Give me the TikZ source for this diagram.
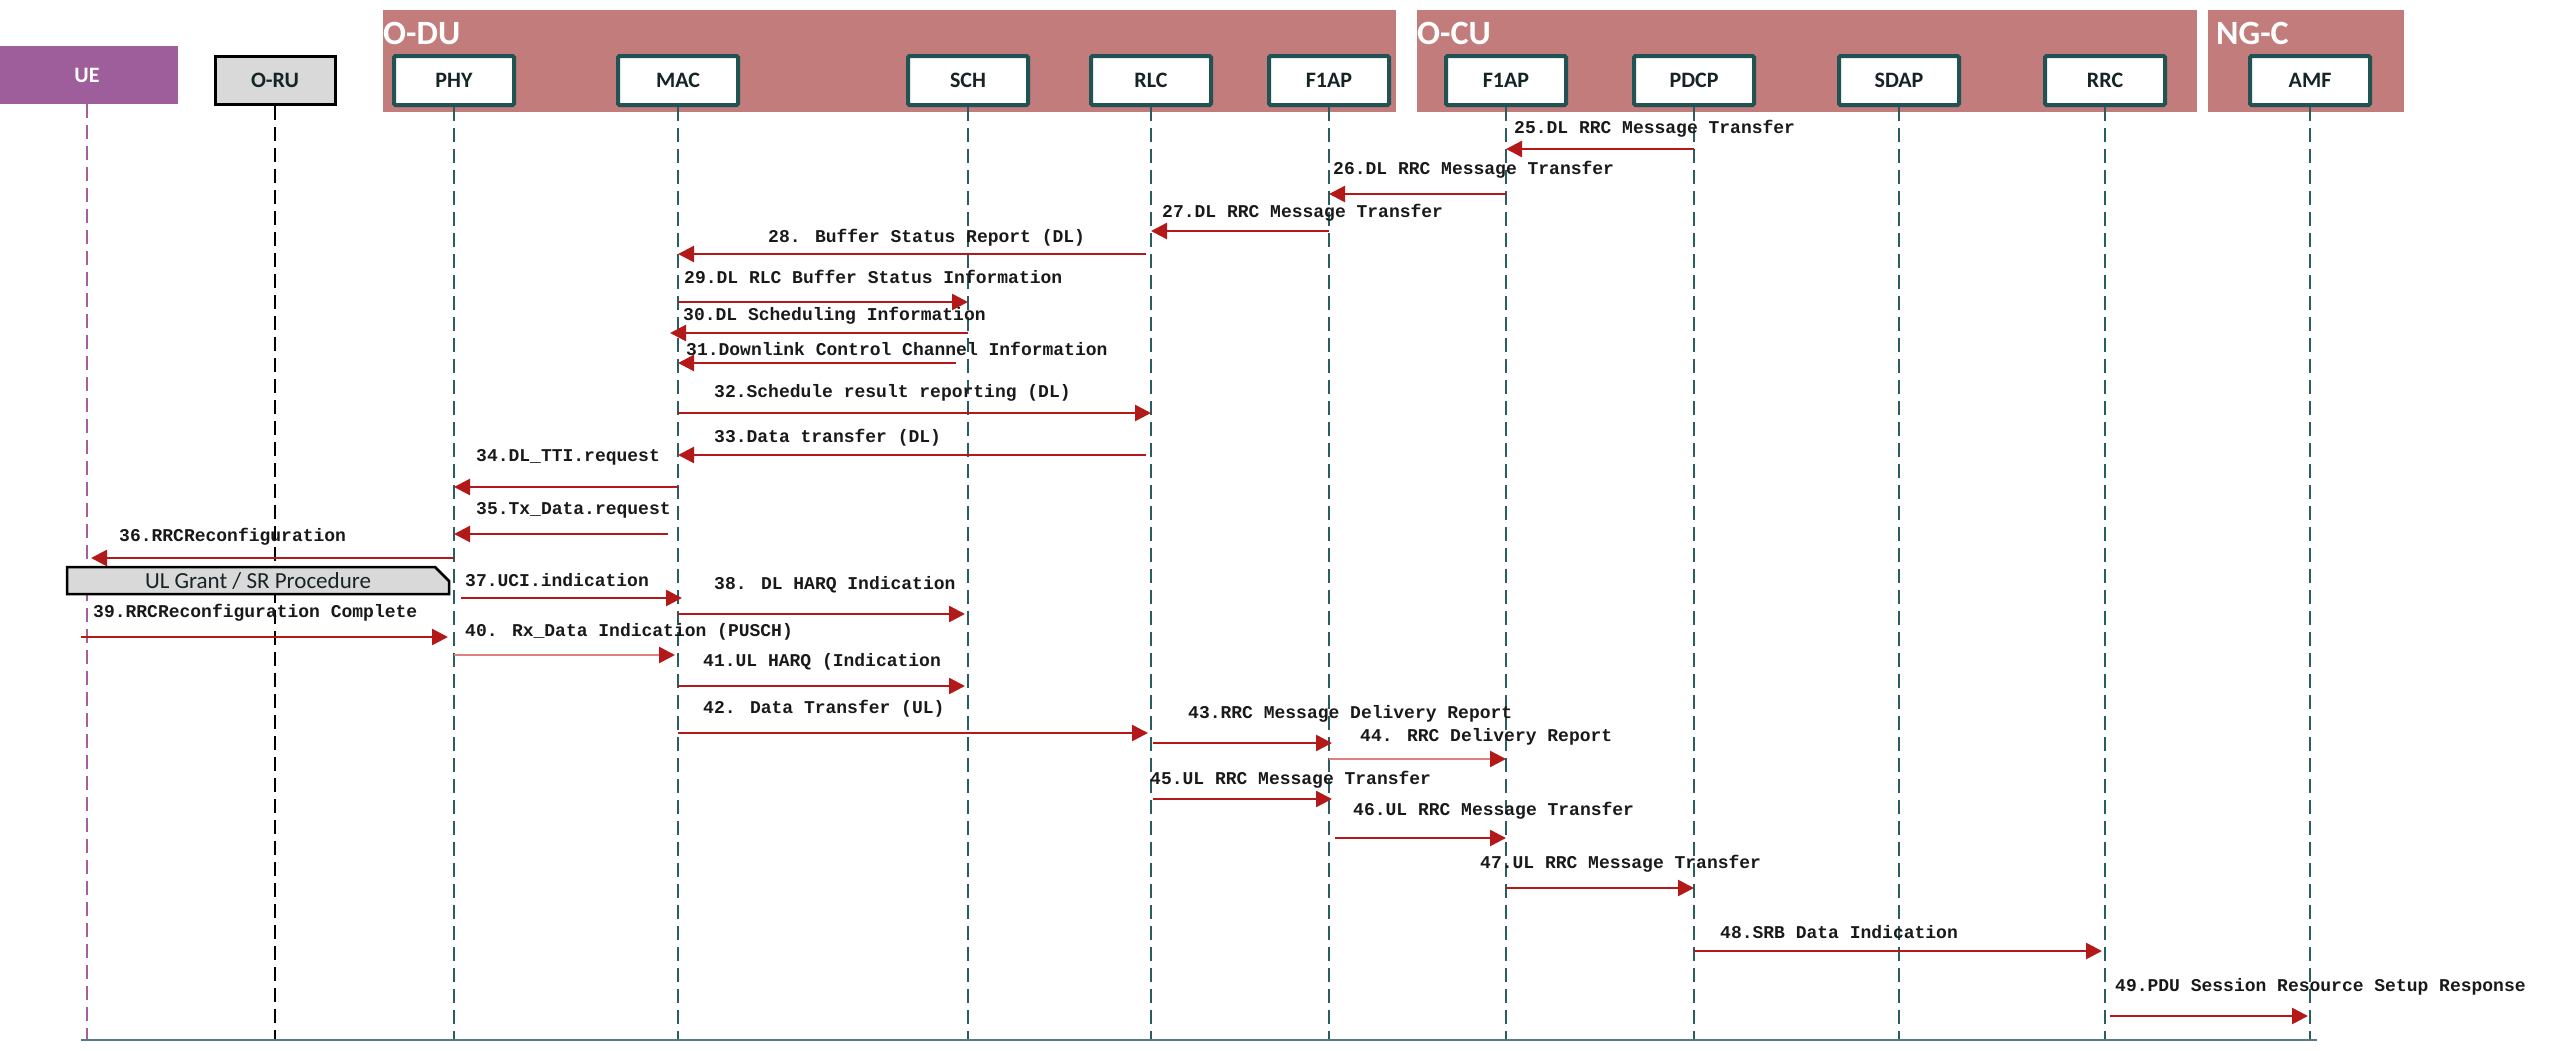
\documentclass[tikz,border=0pt]{standalone}
\usepackage{fontspec}
\setmainfont{Carlito}
\newfontfamily\msgfont{Liberation Mono}
\usetikzlibrary{arrows.meta}

\definecolor{regionfill}{RGB}{194,124,123}
\definecolor{boxline}{RGB}{33,82,84}
\definecolor{lifeteal}{RGB}{42,92,96}
\definecolor{uepurple}{RGB}{158,94,155}
\definecolor{uelife}{RGB}{165,95,160}
\definecolor{msgred}{RGB}{180,25,25}
\definecolor{msgpink}{RGB}{222,128,128}
\definecolor{footgray}{RGB}{84,124,128}
\definecolor{orugray}{RGB}{217,217,217}
\definecolor{headtext}{RGB}{22,36,38}

\tikzset{
  entity/.style={draw=boxline, line width=4pt, fill=white, minimum width=120pt,
    minimum height=49pt, inner sep=0pt, rounded corners=1.5pt,
    font=\fontsize{22}{24}\selectfont\bfseries, text=headtext},
  uebox/.style={fill=uepurple, minimum width=182pt, minimum height=58pt, inner sep=0pt,
    font=\fontsize{22}{24}\selectfont\bfseries, text=white},
  orubox/.style={draw=black, line width=3pt, fill=orugray, minimum width=120pt,
    minimum height=48pt, inner sep=0pt, font=\fontsize{22}{24}\selectfont\bfseries,
    text=headtext},
  regionlabel/.style={anchor=west, inner sep=0pt, text=white,
    font=\fontsize{34}{36}\selectfont\bfseries},
  lifeline/.style={draw=lifeteal, line width=2pt, dash pattern=on 14pt off 7pt},
  msg/.style={draw=msgred, line width=2.5pt,
    -{Triangle[length=16pt,width=16pt,color=msgred]}},
  msglight/.style={msg, draw=msgpink},
  msglabel/.style={anchor=base west, inner sep=0pt, text=black!90,
    font=\msgfont\bfseries\fontsize{18}{20}\selectfont},
  footline/.style={draw=footgray, line width=2.5pt},
}

\begin{document}
\begin{tikzpicture}[x=1pt,y=-1pt]
\useasboundingbox (0,0) rectangle (2565,1050);

% network function groups
\fill[regionfill] (383,10) rectangle (1396,112);
\fill[regionfill] (1417,10) rectangle (2197,112);
\fill[regionfill] (2208,10) rectangle (2404,112);
\node[regionlabel] (odu) at (383,33) {O-DU};
\node[regionlabel] (ocu) at (1417,33) {O-CU};
\node[regionlabel] (ngc) at (2216,33) {NG-C};

% participants
\node[uebox]  (ue)   at (87,75)     {UE};
\node[orubox] (oru)  at (275,80.5)  {O-RU};
\node[entity] (phy)  at (454,80.5)  {PHY};
\node[entity] (mac)  at (678,80.5)  {MAC};
\node[entity] (sch)  at (968,80.5)  {SCH};
\node[entity] (rlc)  at (1151,80.5) {RLC};
\node[entity] (duf1) at (1329,80.5) {F1AP};
\node[entity] (cuf1) at (1506,80.5) {F1AP};
\node[entity] (pdcp) at (1694,80.5) {PDCP};
\node[entity] (sdap) at (1899,80.5) {SDAP};
\node[entity] (rrc)  at (2105,80.5) {RRC};
\node[entity] (amf)  at (2310,80.5) {AMF};

% lifelines
\coordinate (bottom) at (0,1040);
\draw[lifeline, draw=uelife] (ue.south) -- (ue.south |- bottom);
\draw[lifeline, draw=black] (oru.south) -- (oru.south |- bottom);
\foreach \p in {phy,mac,sch,rlc,duf1,cuf1,pdcp,sdap,rrc,amf}
  \draw[lifeline] (\p.south) -- (\p.south |- bottom);

\coordinate (footL) at (81,1040);
\coordinate (footR) at (2317,1040);
\draw[footline] (footL) -- (footR);

% message rows
\coordinate (y25) at (0,149);
\coordinate (y26) at (0,194);
\coordinate (y27) at (0,231);
\coordinate (y28) at (0,254);
\coordinate (y29) at (0,302);
\coordinate (y30) at (0,333);
\coordinate (y31) at (0,363);
\coordinate (y32) at (0,413);
\coordinate (y33) at (0,455);
\coordinate (y34) at (0,487);
\coordinate (y35) at (0,534);
\coordinate (y36) at (0,558);
\coordinate (y37) at (0,598);
\coordinate (y38) at (0,614);
\coordinate (y39) at (0,637);
\coordinate (y40) at (0,655);
\coordinate (y41) at (0,686);
\coordinate (y42) at (0,733);
\coordinate (y43) at (0,743);
\coordinate (y44) at (0,759);
\coordinate (y45) at (0,799);
\coordinate (y46) at (0,838);
\coordinate (y47) at (0,888);
\coordinate (y48) at (0,951);
\coordinate (y49) at (0,1016);

% messages
\draw[msg] (pdcp |- y25) -- (cuf1 |- y25);
\draw[msg] (cuf1 |- y26) -- (duf1 |- y26);
\draw[msg] (duf1 |- y27) -- (rlc |- y27);
\draw[msg] ([xshift=-5pt]rlc |- y28) -- (mac |- y28);
\draw[msg] (mac |- y29) -- (sch |- y29);
\draw[msg] (sch |- y30) -- ([xshift=-8pt]mac |- y30);
\draw[msg] ([xshift=-12pt]sch |- y31) -- (mac |- y31);
\draw[msg] (mac |- y32) -- (rlc |- y32);
\draw[msg] ([xshift=-5pt]rlc |- y33) -- (mac |- y33);
\draw[msg] (mac |- y34) -- (phy |- y34);
\draw[msg] ([xshift=-10pt]mac |- y35) -- (phy |- y35);
\draw[msg] (phy |- y36) -- ([xshift=4pt]ue |- y36);
\draw[msg] ([xshift=7pt]phy |- y37) -- ([xshift=4pt]mac |- y37);
\draw[msg] (mac |- y38) -- ([xshift=-3pt]sch |- y38);
\draw[msg] ([xshift=-6pt]ue |- y39) -- ([xshift=-6pt]phy |- y39);
\draw[msglight] (phy |- y40) -- ([xshift=-3pt]mac |- y40);
\draw[msg] (mac |- y41) -- ([xshift=-3pt]sch |- y41);
\draw[msg] (mac |- y42) -- ([xshift=-3pt]rlc |- y42);
\draw[msg] ([xshift=2pt]rlc |- y43) -- ([xshift=3pt]duf1 |- y43);
\draw[msglight] (duf1 |- y44) -- (cuf1 |- y44);
\draw[msg] ([xshift=2pt]rlc |- y45) -- ([xshift=3pt]duf1 |- y45);
\draw[msg] ([xshift=6pt]duf1 |- y46) -- (cuf1 |- y46);
\draw[msg] (cuf1 |- y47) -- (pdcp |- y47);
\draw[msg] (pdcp |- y48) -- ([xshift=-3pt]rrc |- y48);
\draw[msg] ([xshift=5pt]rrc |- y49) -- ([xshift=-2pt]amf |- y49);

% message labels
\node[msglabel] (l25) at (1514,133) {25.DL RRC Message Transfer};
\node[msglabel] (l26) at (1333,174) {26.DL RRC Message Transfer};
\node[msglabel] (l27) at (1162,217) {27.DL RRC Message Transfer};
\node[msglabel] (l28) at (768,242)  {28. Buffer Status Report (DL)};
\node[msglabel] (l29) at (684,283)  {29.DL RLC Buffer Status Information};
\node[msglabel] (l30) at (683,320)  {30.DL Scheduling Information};
\node[msglabel] (l31) at (686,355)  {31.Downlink Control Channel Information};
\node[msglabel] (l32) at (714,397)  {32.Schedule result reporting (DL)};
\node[msglabel] (l33) at (714,442)  {33.Data transfer (DL)};
\node[msglabel] (l34) at (476,461)  {34.DL\_TTI.request};
\node[msglabel] (l35) at (476,514)  {35.Tx\_Data.request};
\node[msglabel] (l36) at (119,541)  {36.RRCReconfiguration};
\node[msglabel] (l37) at (465,586)  {37.UCI.indication};
\node[msglabel] (l38) at (714,589)  {38. DL HARQ Indication};
\node[msglabel] (l39) at (93,617)   {39.RRCReconfiguration Complete};
\node[msglabel] (l40) at (465,636)  {40. Rx\_Data Indication (PUSCH)};
\node[msglabel] (l41) at (703,666)  {41.UL HARQ (Indication};
\node[msglabel] (l42) at (703,713)  {42. Data Transfer (UL)};
\node[msglabel] (l43) at (1188,718) {43.RRC Message Delivery Report};
\node[msglabel] (l44) at (1360,741) {44. RRC Delivery Report};
\node[msglabel] (l45) at (1150,784) {45.UL RRC Message Transfer};
\node[msglabel] (l46) at (1353,815) {46.UL RRC Message Transfer};
\node[msglabel] (l47) at (1480,868) {47.UL RRC Message Transfer};
\node[msglabel] (l48) at (1720,938) {48.SRB Data Indication};
\node[msglabel] (l49) at (2115,991) {49.PDU Session Resource Setup Response};

% procedure bar across UE and O-RU
\draw[line width=2.5pt, fill=orugray, line join=miter]
  (67,567) -- (435,567) -- (449,581) -- (449,594) -- (67,594) -- cycle;
\node[inner sep=0pt, font=\fontsize{23}{25}\selectfont, text=headtext] (ulgrant)
  at (258,581) {UL Grant / SR Procedure};
\end{tikzpicture}
\end{document}
